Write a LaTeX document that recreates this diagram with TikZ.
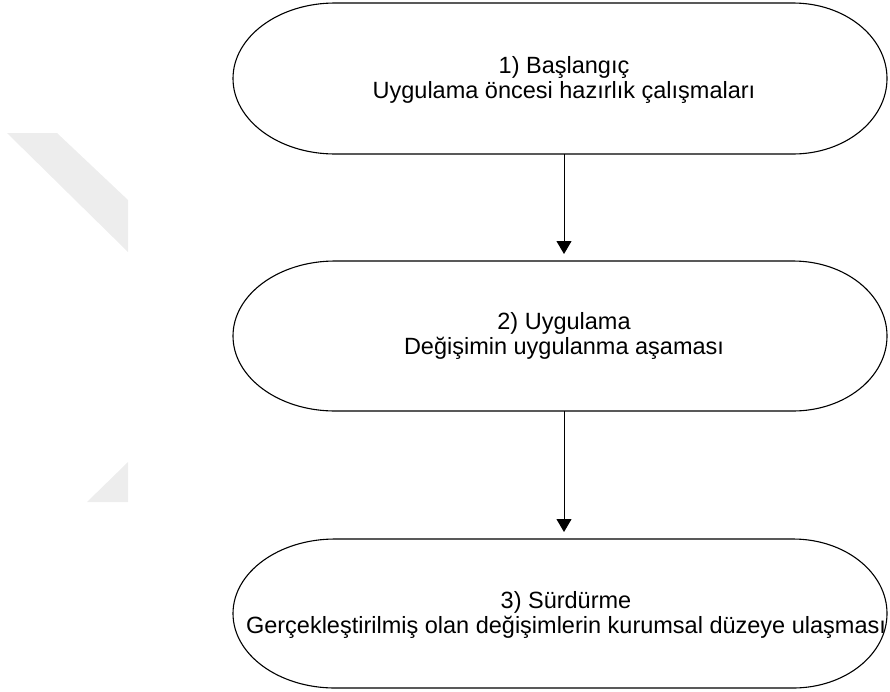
\documentclass[tikz,border=0pt]{standalone}
\usepackage{fontspec}
\setmainfont{Liberation Sans}
\usetikzlibrary{arrows.meta}
\definecolor{wm}{RGB}{237,237,237}
\tikzset{
  terminal/.style={draw=black, line width=1.1pt},
  txt/.style={align=center, font=\fontsize{23.5}{25}\selectfont, inner sep=0pt},
  arr/.style={draw=black, line width=1pt, -{Triangle[width=15pt,length=13pt]}, shorten >=7pt},
  mark shape/.style={fill=wm, draw=none}
}
% #1 top y, #2 bottom y, #3 half height (pt)
\newcommand{\termshape}[3]{%
  \path[terminal] (335,#1) -- (793,#1)
    arc[start angle=90, end angle=-90, x radius=94pt, y radius=#3pt]
    -- (335,#2)
    arc[start angle=270, end angle=90, x radius=102pt, y radius=#3pt] -- cycle;}
\begin{document}
\begin{tikzpicture}[x=1pt,y=-1pt]
\useasboundingbox (0,0) rectangle (890,691);
% watermark
\fill[mark shape] (7,133) -- (57,133) -- (128,200) -- (128,252) -- cycle;
\fill[mark shape] (87,502) -- (128,462) -- (128,502) -- cycle;
% shapes
\termshape{3}{154}{75.5}
\termshape{261}{411}{75}
\termshape{539}{688}{74.5}
% texts
\node[txt] (s1) at (564,80) {1) Başlangıç\\Uygulama öncesi hazırlık çalışmaları};
\node[txt] (s2) at (564,336) {2) Uygulama\\Değişimin uygulanma aşaması};
\node[txt] (s3) at (566,615) {3) Sürdürme\\Gerçekleştirilmiş olan değişimlerin kurumsal düzeye ulaşması};
% connector anchors
\coordinate (b1) at (564,154);
\coordinate (t2) at (564,261);
\coordinate (b2) at (564,411);
\coordinate (t3) at (564,539);
\draw[arr] (b1) -- (t2);
\draw[arr] (b2) -- (t3);
\end{tikzpicture}
\end{document}
